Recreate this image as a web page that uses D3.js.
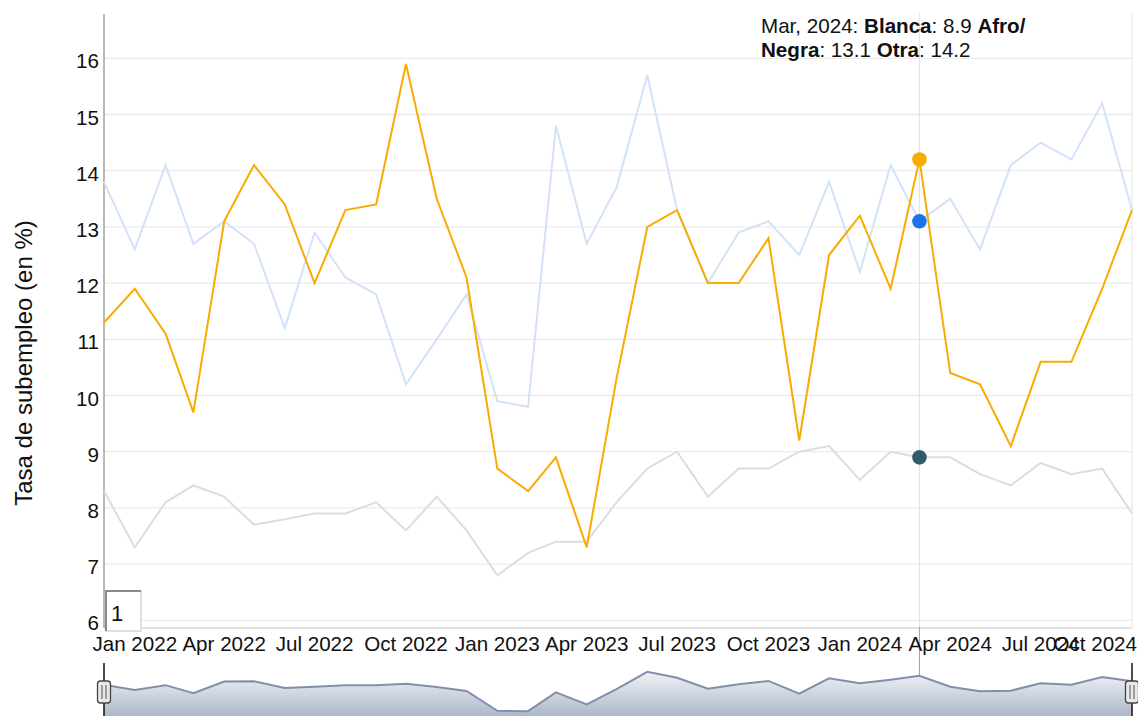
<!DOCTYPE html>
<html><head><meta charset="utf-8">
<script src="https://cdn.jsdelivr.net/npm/d3@7"></script>
<style>
html,body{margin:0;padding:0;background:#fff;}
svg{display:block;font-family:"Liberation Sans",Arial,sans-serif;}
</style></head>
<body><svg id="c" width="1138" height="716"></svg>
<script>
const months = ["2021-12","2022-01","2022-02","2022-03","2022-04","2022-05","2022-06","2022-07","2022-08","2022-09","2022-10","2022-11",
"2022-12","2023-01","2023-02","2023-03","2023-04","2023-05","2023-06","2023-07","2023-08","2023-09","2023-10","2023-11",
"2023-12","2024-01","2024-02","2024-03","2024-04","2024-05","2024-06","2024-07","2024-08","2024-09","2024-10"];
const seriesNames = ["Blanca","Afro/Negra","Otra"];
const blanca = [8.3,7.3,8.1,8.4,8.2,7.7,7.8,7.9,7.9,8.1,7.6,8.2,7.6,6.8,7.2,7.4,7.4,8.1,8.7,9.0,8.2,8.7,8.7,9.0,9.1,8.5,9.0,8.9,8.9,8.6,8.4,8.8,8.6,8.7,7.9];
const afro   = [13.8,12.6,14.1,12.7,13.1,12.7,11.2,12.9,12.1,11.8,10.2,11.0,11.8,9.9,9.8,14.8,12.7,13.7,15.7,13.3,12.0,12.9,13.1,12.5,13.8,12.2,14.1,13.1,13.5,12.6,14.1,14.5,14.2,15.2,13.3];
const otra   = [11.3,11.9,11.1,9.7,13.1,14.1,13.4,12.0,13.3,13.4,15.9,13.5,12.1,8.7,8.3,8.9,7.3,10.3,13.0,13.3,12.0,12.0,12.8,9.2,12.5,13.2,11.9,14.2,10.4,10.2,9.1,10.6,10.6,11.9,13.3];
const yTicks = [6,7,8,9,10,11,12,13,14,15,16];
const xTickMonths = ["2022-01","2022-04","2022-07","2022-10","2023-01","2023-04","2023-07","2023-10","2024-01","2024-04","2024-07","2024-10"];
const highlightMonth = "2024-03";
const yLabel = "Tasa de subempleo (en %)";
const rollPeriod = "1";

const colors = ["#2e5a6b","#1a73e8","#f9ab00"];
const fadedColors = ["#d8dfe2","#d3e2f9","#f9ab00"];
const allSeries = [blanca, afro, otra];

const parse = d3.timeParse("%Y-%m");
const dates = months.map(parse);
const svg = d3.select("#c");
const FS = 20.6;

const X0 = 104, X1 = 1132, YT = 12.8, YB = 626.5;
const x = d3.scaleTime().domain(d3.extent(dates)).range([X0, X1]);
const allVals = allSeries.flat();
const mn = d3.min(allVals), mx = d3.max(allVals), pad = (mx - mn) * 0.1;
const y = d3.scaleLinear().domain([mn - pad, mx + pad]).range([YB, YT]);

// grid
svg.append("g").selectAll("line").data(yTicks).join("line")
  .attr("x1", X0).attr("x2", X1).attr("y1", d => y(d)).attr("y2", d => y(d))
  .attr("stroke", "#ebebeb").attr("stroke-width", 1.3);

// right border & bottom axis line
svg.append("line").attr("x1", X1).attr("x2", X1).attr("y1", YT).attr("y2", 628)
  .attr("stroke", "#e6e6e6").attr("stroke-width", 1);
svg.append("line").attr("x1", X0).attr("x2", X1).attr("y1", 628).attr("y2", 628)
  .attr("stroke", "#e3e3e3").attr("stroke-width", 2);

// highlight vertical line
const hi = months.indexOf(highlightMonth);
const hx = x(dates[hi]);
svg.append("line").attr("x1", hx).attr("x2", hx).attr("y1", YT).attr("y2", 627)
  .attr("stroke", "#e4e4e4").attr("stroke-width", 1.2);
svg.append("line").attr("x1", hx).attr("x2", hx).attr("y1", 627).attr("y2", 676)
  .attr("stroke", "#a0a0a0").attr("stroke-width", 1);

// left axis line
svg.append("line").attr("x1", X0).attr("x2", X0).attr("y1", 14).attr("y2", 628)
  .attr("stroke", "#8a8a8a").attr("stroke-width", 1.2);

// lines
const line = d3.line().x((d, i) => x(dates[i])).y(d => y(d));
[0, 1].forEach(k => {
  svg.append("path").datum(allSeries[k]).attr("d", line).attr("fill", "none")
    .attr("stroke", fadedColors[k]).attr("stroke-width", 2).attr("stroke-linejoin", "miter");
});
svg.append("path").datum(otra).attr("d", line).attr("fill", "none")
  .attr("stroke", colors[2]).attr("stroke-width", 2);

// highlight dots
svg.append("g").selectAll("circle").data(allSeries).join("circle")
  .attr("cx", hx).attr("cy", d => y(d[hi])).attr("r", 7.3)
  .attr("fill", (d, i) => colors[i]);

// y tick labels
svg.append("g").selectAll("text").data(yTicks).join("text")
  .attr("x", 99).attr("y", d => y(d) + 10).attr("text-anchor", "end")
  .attr("font-size", FS).attr("fill", "#111").text(d => d);

// x tick labels
const fmt = d3.timeFormat("%b %Y");
const xl = svg.append("g");
xTickMonths.forEach(m => {
  const dt = parse(m);
  const t = xl.append("text").attr("y", 650.5).attr("font-size", FS).attr("fill", "#111").text(fmt(dt));
  const w = t.node().getComputedTextLength();
  let left = x(dt) - w / 2;
  if (left + w > 1137) left = 1137 - w;
  t.attr("x", left);
});

// y label
svg.append("text").attr("transform", "translate(32,363) rotate(-90)")
  .attr("text-anchor", "middle").attr("font-size", 24).attr("fill", "#111").text(yLabel);

// roll period box
const rb = svg.append("g");
rb.append("rect").attr("x", 106).attr("y", 591).attr("width", 35).attr("height", 40)
  .attr("fill", "#fff").attr("stroke", "#e0e0e0").attr("stroke-width", 2);
rb.append("path").attr("d", "M106,631 L106,591 L141,591").attr("fill", "none")
  .attr("stroke", "#8a8a8a").attr("stroke-width", 2);
rb.append("text").attr("x", 111).attr("y", 621).attr("font-size", 22).attr("fill", "#111").text(rollPeriod);

// legend
const fmtL = d3.timeFormat("%b, %Y");
const lg = svg.append("text").attr("font-size", FS).attr("fill", "#111");
const l1 = lg.append("tspan").attr("x", 761).attr("y", 33);
l1.append("tspan").text(fmtL(dates[hi]) + ": ");
l1.append("tspan").attr("font-weight", "bold").text(seriesNames[0]);
l1.append("tspan").text(": " + blanca[hi].toFixed(1) + " ");
const parts = seriesNames[1].split("/");
l1.append("tspan").attr("font-weight", "bold").text(parts[0] + "/");
const l2 = lg.append("tspan").attr("x", 761).attr("y", 56.5);
l2.append("tspan").attr("font-weight", "bold").text(parts[1]);
l2.append("tspan").text(": " + afro[hi].toFixed(1) + " ");
l2.append("tspan").attr("font-weight", "bold").text(seriesNames[2]);
l2.append("tspan").text(": " + otra[hi].toFixed(1));

// range selector
const avg = months.map((m, i) => d3.mean(allSeries, s => s[i]));
const amn = d3.min(avg), amx = d3.max(avg), apad = (amx - amn) * 0.25;
const ym = d3.scaleLinear().domain([amn - apad, amx + apad]).range([721, 662]);
const defs = svg.append("defs");
const gr = defs.append("linearGradient").attr("id", "rg").attr("x1", 0).attr("x2", 0)
  .attr("gradientUnits", "userSpaceOnUse").attr("y1", 662).attr("y2", 721);
gr.append("stop").attr("offset", 0).attr("stop-color", "#ffffff");
gr.append("stop").attr("offset", 1).attr("stop-color", "#a7b1c4");
const area = d3.area().x((d, i) => x(dates[i])).y0(721).y1(d => ym(d));
svg.append("path").datum(avg).attr("d", area).attr("fill", "url(#rg)");
svg.append("path").datum(avg).attr("d", d3.line().x((d, i) => x(dates[i])).y(d => ym(d)))
  .attr("fill", "none").attr("stroke", "#808fab").attr("stroke-width", 2);
[X0, X1].forEach(hxp => {
  svg.append("line").attr("x1", hxp).attr("x2", hxp).attr("y1", 663).attr("y2", 716)
    .attr("stroke", "#111").attr("stroke-width", 1.5);
  svg.append("rect").attr("x", hxp - 6.5).attr("y", 681).attr("width", 13).attr("height", 22).attr("rx", 3)
    .attr("fill", "#e8e8e8").attr("stroke", "#444").attr("stroke-width", 1.3);
  [-2, 2].forEach(o => svg.append("line").attr("x1", hxp + o).attr("x2", hxp + o).attr("y1", 685).attr("y2", 699)
    .attr("stroke", "#555").attr("stroke-width", 1));
});
</script></body></html>
